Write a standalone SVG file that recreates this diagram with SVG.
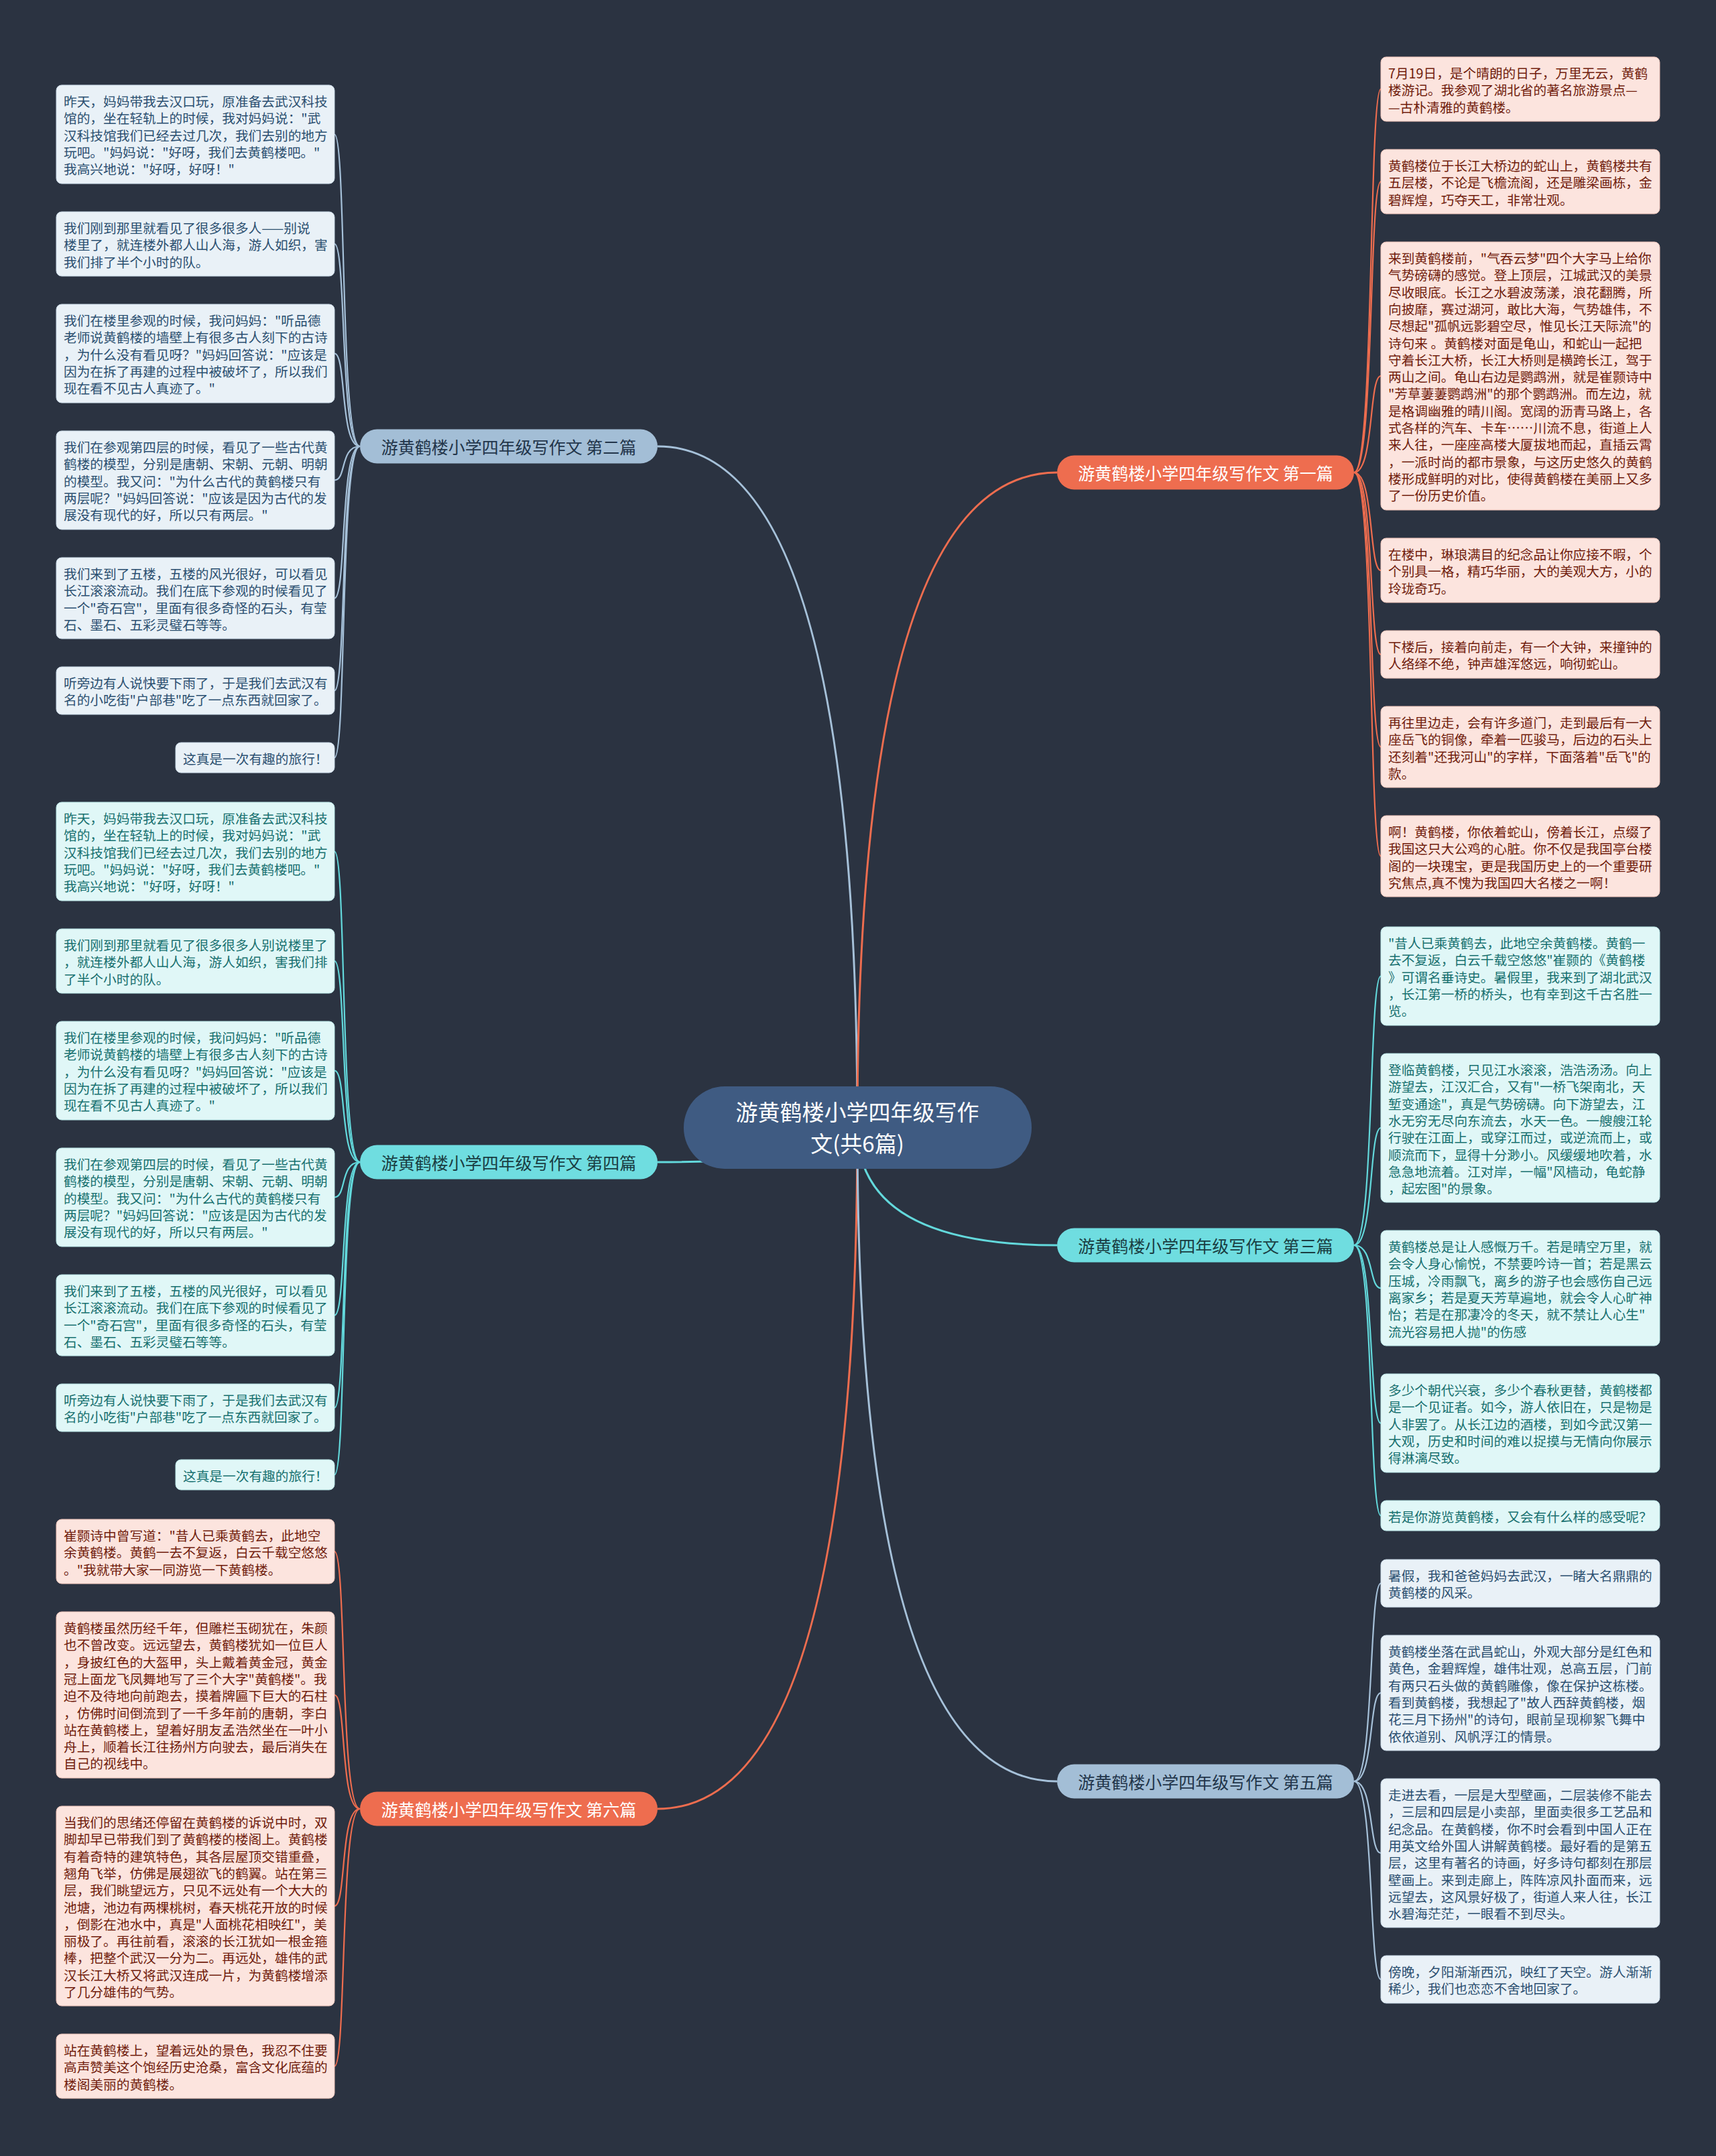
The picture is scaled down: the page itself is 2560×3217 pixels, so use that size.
<svg xmlns="http://www.w3.org/2000/svg" width="2560" height="3217" viewBox="0 0 2560 3217">
<style>
text{font-family:"Noto Sans CJK SC","Noto Sans",sans-serif;dominant-baseline:central}
.lt{font-size:19.7px}
.lb{fill:#e9f1f7;stroke:#c9d9e6;stroke-width:1}
.lc{fill:#e0f7f7;stroke:#b9e6e6;stroke-width:1}
.lr{fill:#fce4de;stroke:#eec3b8;stroke-width:1}
.tb{fill:#2b4f70}
.tc{fill:#17706f}
.tr{fill:#701c0c}
.cb{fill:none;stroke:#a6c1d9;stroke-width:2.2}
.cc{fill:none;stroke:#63d9dc;stroke-width:2.2}
.cr{fill:none;stroke:#ee6d4f;stroke-width:2.2}
.mb{fill:none;stroke:#a6c1d9;stroke-width:3}
.mc{fill:none;stroke:#63d9dc;stroke-width:3}
.mr{fill:none;stroke:#ee6d4f;stroke-width:3}
.bt{font-size:25px;text-anchor:middle}
</style>
<rect x="0" y="0" width="2560" height="3217" fill="#2b3341"/>
<g id="connectors">
<path class="mb" d="M1279,1682 Q1279,666 981,666"/>
<path class="mc" d="M1279,1682 Q1279,1734 981,1734"/>
<path class="mr" d="M1279,1682 Q1279,2699 981,2699"/>
<path class="mr" d="M1279,1682 Q1279,705 1577,705"/>
<path class="mc" d="M1279,1682 Q1279,1858 1577,1858"/>
<path class="mb" d="M1279,1682 Q1279,2658 1577,2658"/>
<path class="cb" d="M537,666 C507,666 517,200.5 499,200.5"/>
<path class="cb" d="M537,666 C507,666 517,364 499,364"/>
<path class="cb" d="M537,666 C507,666 517,527.5 499,527.5"/>
<path class="cb" d="M537,666 C507,666 517,716.5 499,716.5"/>
<path class="cb" d="M537,666 C507,666 517,892.5 499,892.5"/>
<path class="cb" d="M537,666 C507,666 517,1030.5 499,1030.5"/>
<path class="cb" d="M537,666 C507,666 517,1130.5 499,1130.5"/>
<path class="cc" d="M537,1734 C507,1734 517,1270.5 499,1270.5"/>
<path class="cc" d="M537,1734 C507,1734 517,1434 499,1434"/>
<path class="cc" d="M537,1734 C507,1734 517,1597.5 499,1597.5"/>
<path class="cc" d="M537,1734 C507,1734 517,1786.5 499,1786.5"/>
<path class="cc" d="M537,1734 C507,1734 517,1962.5 499,1962.5"/>
<path class="cc" d="M537,1734 C507,1734 517,2100.5 499,2100.5"/>
<path class="cc" d="M537,1734 C507,1734 517,2200.5 499,2200.5"/>
<path class="cr" d="M537,2699 C507,2699 517,2315 499,2315"/>
<path class="cr" d="M537,2699 C507,2699 517,2529 499,2529"/>
<path class="cr" d="M537,2699 C507,2699 517,2844 499,2844"/>
<path class="cr" d="M537,2699 C507,2699 517,3083 499,3083"/>
<path class="cr" d="M2020,705 C2050,705 2042,133 2060,133"/>
<path class="cr" d="M2020,705 C2050,705 2042,271 2060,271"/>
<path class="cr" d="M2020,705 C2050,705 2042,561 2060,561"/>
<path class="cr" d="M2020,705 C2050,705 2042,851 2060,851"/>
<path class="cr" d="M2020,705 C2050,705 2042,976.5 2060,976.5"/>
<path class="cr" d="M2020,705 C2050,705 2042,1114.5 2060,1114.5"/>
<path class="cr" d="M2020,705 C2050,705 2042,1277.5 2060,1277.5"/>
<path class="cc" d="M2020,1858 C2050,1858 2042,1456.5 2060,1456.5"/>
<path class="cc" d="M2020,1858 C2050,1858 2042,1683 2060,1683"/>
<path class="cc" d="M2020,1858 C2050,1858 2042,1922 2060,1922"/>
<path class="cc" d="M2020,1858 C2050,1858 2042,2123.5 2060,2123.5"/>
<path class="cc" d="M2020,1858 C2050,1858 2042,2261.5 2060,2261.5"/>
<path class="cb" d="M2020,2658 C2050,2658 2042,2362.5 2060,2362.5"/>
<path class="cb" d="M2020,2658 C2050,2658 2042,2526 2060,2526"/>
<path class="cb" d="M2020,2658 C2050,2658 2042,2765 2060,2765"/>
<path class="cb" d="M2020,2658 C2050,2658 2042,2953.5 2060,2953.5"/>
</g>
<g id="root">
<rect x="1020" y="1621" width="519" height="123" rx="61" fill="#3f5b82"/>
<text x="1279" y="1658" font-size="33" text-anchor="middle" fill="#ffffff">游黄鹤楼小学四年级写作</text>
<text x="1279" y="1705" font-size="33" text-anchor="middle" fill="#ffffff">文(共6篇)</text>
</g>
<g id="branch2"><rect x="537" y="640.5" width="444" height="51" rx="25.5" fill="#a3bed6"/><text class="bt" x="759" y="666" fill="#22354a">游黄鹤楼小学四年级写作文 第二篇</text></g>
<g id="branch4"><rect x="537" y="1708.5" width="444" height="51" rx="25.5" fill="#6fdde0"/><text class="bt" x="759" y="1734" fill="#1a3d42">游黄鹤楼小学四年级写作文 第四篇</text></g>
<g id="branch6"><rect x="537" y="2673.5" width="444" height="51" rx="25.5" fill="#ee6d4f"/><text class="bt" x="759" y="2699" fill="#ffffff">游黄鹤楼小学四年级写作文 第六篇</text></g>
<g id="branch1"><rect x="1577" y="679.5" width="443" height="51" rx="25.5" fill="#ee6d4f"/><text class="bt" x="1798.5" y="705" fill="#ffffff">游黄鹤楼小学四年级写作文 第一篇</text></g>
<g id="branch3"><rect x="1577" y="1832.5" width="443" height="51" rx="25.5" fill="#6fdde0"/><text class="bt" x="1798.5" y="1858" fill="#1a3d42">游黄鹤楼小学四年级写作文 第三篇</text></g>
<g id="branch5"><rect x="1577" y="2632.5" width="443" height="51" rx="25.5" fill="#a3bed6"/><text class="bt" x="1798.5" y="2658" fill="#22354a">游黄鹤楼小学四年级写作文 第五篇</text></g>

<g id="n2-1"><rect class="lb" x="84" y="127" width="415" height="147" rx="8"/><text class="lt tb"><tspan x="95" y="150">昨天，妈妈带我去汉口玩，原准备去武汉科技</tspan><tspan x="95" y="175.3">馆的，坐在轻轨上的时候，我对妈妈说："武</tspan><tspan x="95" y="200.6">汉科技馆我们已经去过几次，我们去别的地方</tspan><tspan x="95" y="225.9">玩吧。"妈妈说："好呀，我们去黄鹤楼吧。"</tspan><tspan x="95" y="251.2">我高兴地说："好呀，好呀！"</tspan></text></g>
<g id="n2-2"><rect class="lb" x="84" y="316" width="415" height="96" rx="8"/><text class="lt tb"><tspan x="95" y="339">我们刚到那里就看见了很多很多人——别说</tspan><tspan x="95" y="364.3">楼里了，就连楼外都人山人海，游人如织，害</tspan><tspan x="95" y="389.6">我们排了半个小时的队。</tspan></text></g>
<g id="n2-3"><rect class="lb" x="84" y="454" width="415" height="147" rx="8"/><text class="lt tb"><tspan x="95" y="477">我们在楼里参观的时候，我问妈妈："听品德</tspan><tspan x="95" y="502.3">老师说黄鹤楼的墙壁上有很多古人刻下的古诗</tspan><tspan x="95" y="527.6">，为什么没有看见呀？"妈妈回答说："应该是</tspan><tspan x="95" y="552.9">因为在拆了再建的过程中被破坏了，所以我们</tspan><tspan x="95" y="578.2">现在看不见古人真迹了。"</tspan></text></g>
<g id="n2-4"><rect class="lb" x="84" y="643" width="415" height="147" rx="8"/><text class="lt tb"><tspan x="95" y="666">我们在参观第四层的时候，看见了一些古代黄</tspan><tspan x="95" y="691.3">鹤楼的模型，分别是唐朝、宋朝、元朝、明朝</tspan><tspan x="95" y="716.6">的模型。我又问："为什么古代的黄鹤楼只有</tspan><tspan x="95" y="741.9">两层呢？"妈妈回答说："应该是因为古代的发</tspan><tspan x="95" y="767.2">展没有现代的好，所以只有两层。"</tspan></text></g>
<g id="n2-5"><rect class="lb" x="84" y="832" width="415" height="121" rx="8"/><text class="lt tb"><tspan x="95" y="855">我们来到了五楼，五楼的风光很好，可以看见</tspan><tspan x="95" y="880.3">长江滚滚流动。我们在底下参观的时候看见了</tspan><tspan x="95" y="905.6">一个"奇石宫"，里面有很多奇怪的石头，有莹</tspan><tspan x="95" y="930.9">石、墨石、五彩灵璧石等等。</tspan></text></g>
<g id="n2-6"><rect class="lb" x="84" y="995" width="415" height="71" rx="8"/><text class="lt tb"><tspan x="95" y="1018">听旁边有人说快要下雨了，于是我们去武汉有</tspan><tspan x="95" y="1043.3">名的小吃街"户部巷"吃了一点东西就回家了。</tspan></text></g>
<g id="n2-7"><rect class="lb" x="262" y="1108" width="237" height="45" rx="8"/><text class="lt tb"><tspan x="273" y="1131">这真是一次有趣的旅行！</tspan></text></g>

<g id="n4-1"><rect class="lc" x="84" y="1197" width="415" height="147" rx="8"/><text class="lt tc"><tspan x="95" y="1220">昨天，妈妈带我去汉口玩，原准备去武汉科技</tspan><tspan x="95" y="1245.3">馆的，坐在轻轨上的时候，我对妈妈说："武</tspan><tspan x="95" y="1270.6">汉科技馆我们已经去过几次，我们去别的地方</tspan><tspan x="95" y="1295.9">玩吧。"妈妈说："好呀，我们去黄鹤楼吧。"</tspan><tspan x="95" y="1321.2">我高兴地说："好呀，好呀！"</tspan></text></g>
<g id="n4-2"><rect class="lc" x="84" y="1386" width="415" height="96" rx="8"/><text class="lt tc"><tspan x="95" y="1409">我们刚到那里就看见了很多很多人别说楼里了</tspan><tspan x="95" y="1434.3">，就连楼外都人山人海，游人如织，害我们排</tspan><tspan x="95" y="1459.6">了半个小时的队。</tspan></text></g>
<g id="n4-3"><rect class="lc" x="84" y="1524" width="415" height="147" rx="8"/><text class="lt tc"><tspan x="95" y="1547">我们在楼里参观的时候，我问妈妈："听品德</tspan><tspan x="95" y="1572.3">老师说黄鹤楼的墙壁上有很多古人刻下的古诗</tspan><tspan x="95" y="1597.6">，为什么没有看见呀？"妈妈回答说："应该是</tspan><tspan x="95" y="1622.9">因为在拆了再建的过程中被破坏了，所以我们</tspan><tspan x="95" y="1648.2">现在看不见古人真迹了。"</tspan></text></g>
<g id="n4-4"><rect class="lc" x="84" y="1713" width="415" height="147" rx="8"/><text class="lt tc"><tspan x="95" y="1736">我们在参观第四层的时候，看见了一些古代黄</tspan><tspan x="95" y="1761.3">鹤楼的模型，分别是唐朝、宋朝、元朝、明朝</tspan><tspan x="95" y="1786.6">的模型。我又问："为什么古代的黄鹤楼只有</tspan><tspan x="95" y="1811.9">两层呢？"妈妈回答说："应该是因为古代的发</tspan><tspan x="95" y="1837.2">展没有现代的好，所以只有两层。"</tspan></text></g>
<g id="n4-5"><rect class="lc" x="84" y="1902" width="415" height="121" rx="8"/><text class="lt tc"><tspan x="95" y="1925">我们来到了五楼，五楼的风光很好，可以看见</tspan><tspan x="95" y="1950.3">长江滚滚流动。我们在底下参观的时候看见了</tspan><tspan x="95" y="1975.6">一个"奇石宫"，里面有很多奇怪的石头，有莹</tspan><tspan x="95" y="2000.9">石、墨石、五彩灵璧石等等。</tspan></text></g>
<g id="n4-6"><rect class="lc" x="84" y="2065" width="415" height="71" rx="8"/><text class="lt tc"><tspan x="95" y="2088">听旁边有人说快要下雨了，于是我们去武汉有</tspan><tspan x="95" y="2113.3">名的小吃街"户部巷"吃了一点东西就回家了。</tspan></text></g>
<g id="n4-7"><rect class="lc" x="262" y="2178" width="237" height="45" rx="8"/><text class="lt tc"><tspan x="273" y="2201">这真是一次有趣的旅行！</tspan></text></g>

<g id="n6-1"><rect class="lr" x="84" y="2267" width="415" height="96" rx="8"/><text class="lt tr"><tspan x="95" y="2290">崔颢诗中曾写道："昔人已乘黄鹤去，此地空</tspan><tspan x="95" y="2315.3">余黄鹤楼。黄鹤一去不复返，白云千载空悠悠</tspan><tspan x="95" y="2340.6">。"我就带大家一同游览一下黄鹤楼。</tspan></text></g>
<g id="n6-2"><rect class="lr" x="84" y="2405" width="415" height="248" rx="8"/><text class="lt tr"><tspan x="95" y="2428">黄鹤楼虽然历经千年，但雕栏玉砌犹在，朱颜</tspan><tspan x="95" y="2453.3">也不曾改变。远远望去，黄鹤楼犹如一位巨人</tspan><tspan x="95" y="2478.6">，身披红色的大盔甲，头上戴着黄金冠，黄金</tspan><tspan x="95" y="2503.9">冠上面龙飞凤舞地写了三个大字"黄鹤楼"。我</tspan><tspan x="95" y="2529.2">迫不及待地向前跑去，摸着牌匾下巨大的石柱</tspan><tspan x="95" y="2554.5">，仿佛时间倒流到了一千多年前的唐朝，李白</tspan><tspan x="95" y="2579.8">站在黄鹤楼上，望着好朋友孟浩然坐在一叶小</tspan><tspan x="95" y="2605.1">舟上，顺着长江往扬州方向驶去，最后消失在</tspan><tspan x="95" y="2630.4">自己的视线中。</tspan></text></g>
<g id="n6-3"><rect class="lr" x="84" y="2695" width="415" height="298" rx="8"/><text class="lt tr"><tspan x="95" y="2718">当我们的思绪还停留在黄鹤楼的诉说中时，双</tspan><tspan x="95" y="2743.3">脚却早已带我们到了黄鹤楼的楼阁上。黄鹤楼</tspan><tspan x="95" y="2768.6">有着奇特的建筑特色，其各层屋顶交错重叠，</tspan><tspan x="95" y="2793.9">翘角飞举，仿佛是展翅欲飞的鹤翼。站在第三</tspan><tspan x="95" y="2819.2">层，我们眺望远方，只见不远处有一个大大的</tspan><tspan x="95" y="2844.5">池塘，池边有两棵桃树，春天桃花开放的时候</tspan><tspan x="95" y="2869.8">，倒影在池水中，真是"人面桃花相映红"，美</tspan><tspan x="95" y="2895.1">丽极了。再往前看，滚滚的长江犹如一根金箍</tspan><tspan x="95" y="2920.4">棒，把整个武汉一分为二。再远处，雄伟的武</tspan><tspan x="95" y="2945.7">汉长江大桥又将武汉连成一片，为黄鹤楼增添</tspan><tspan x="95" y="2971">了几分雄伟的气势。</tspan></text></g>
<g id="n6-4"><rect class="lr" x="84" y="3035" width="415" height="96" rx="8"/><text class="lt tr"><tspan x="95" y="3058">站在黄鹤楼上，望着远处的景色，我忍不住要</tspan><tspan x="95" y="3083.3">高声赞美这个饱经历史沧桑，富含文化底蕴的</tspan><tspan x="95" y="3108.6">楼阁美丽的黄鹤楼。</tspan></text></g>

<g id="n1-1"><rect class="lr" x="2060" y="85" width="416" height="96" rx="8"/><text class="lt tr"><tspan x="2071" y="108">7月19日，是个晴朗的日子，万里无云，黄鹤</tspan><tspan x="2071" y="133.3">楼游记。我参观了湖北省的著名旅游景点—</tspan><tspan x="2071" y="158.6">—古朴清雅的黄鹤楼。</tspan></text></g>
<g id="n1-2"><rect class="lr" x="2060" y="223" width="416" height="96" rx="8"/><text class="lt tr"><tspan x="2071" y="246">黄鹤楼位于长江大桥边的蛇山上，黄鹤楼共有</tspan><tspan x="2071" y="271.3">五层楼，不论是飞檐流阁，还是雕梁画栋，金</tspan><tspan x="2071" y="296.6">碧辉煌，巧夺天工，非常壮观。</tspan></text></g>
<g id="n1-3"><rect class="lr" x="2060" y="361" width="416" height="400" rx="8"/><text class="lt tr"><tspan x="2071" y="384">来到黄鹤楼前，"气吞云梦"四个大字马上给你</tspan><tspan x="2071" y="409.3">气势磅礴的感觉。登上顶层，江城武汉的美景</tspan><tspan x="2071" y="434.6">尽收眼底。长江之水碧波荡漾，浪花翻腾，所</tspan><tspan x="2071" y="459.9">向披靡，赛过湖河，敢比大海，气势雄伟，不</tspan><tspan x="2071" y="485.2">尽想起"孤帆远影碧空尽，惟见长江天际流"的</tspan><tspan x="2071" y="510.5">诗句来 。黄鹤楼对面是龟山，和蛇山一起把</tspan><tspan x="2071" y="535.8">守着长江大桥，长江大桥则是横跨长江，驾于</tspan><tspan x="2071" y="561.1">两山之间。龟山右边是鹦鹉洲，就是崔颢诗中</tspan><tspan x="2071" y="586.4">"芳草萋萋鹦鹉洲"的那个鹦鹉洲。而左边，就</tspan><tspan x="2071" y="611.7">是格调幽雅的晴川阁。宽阔的沥青马路上，各</tspan><tspan x="2071" y="637">式各样的汽车、卡车……川流不息，街道上人</tspan><tspan x="2071" y="662.3">来人往，一座座高楼大厦拔地而起，直插云霄</tspan><tspan x="2071" y="687.6">，一派时尚的都市景象，与这历史悠久的黄鹤</tspan><tspan x="2071" y="712.9">楼形成鲜明的对比，使得黄鹤楼在美丽上又多</tspan><tspan x="2071" y="738.2">了一份历史价值。</tspan></text></g>
<g id="n1-4"><rect class="lr" x="2060" y="803" width="416" height="96" rx="8"/><text class="lt tr"><tspan x="2071" y="826">在楼中，琳琅满目的纪念品让你应接不暇，个</tspan><tspan x="2071" y="851.3">个别具一格，精巧华丽，大的美观大方，小的</tspan><tspan x="2071" y="876.6">玲珑奇巧。</tspan></text></g>
<g id="n1-5"><rect class="lr" x="2060" y="941" width="416" height="71" rx="8"/><text class="lt tr"><tspan x="2071" y="964">下楼后，接着向前走，有一个大钟，来撞钟的</tspan><tspan x="2071" y="989.3">人络绎不绝，钟声雄浑悠远，响彻蛇山。</tspan></text></g>
<g id="n1-6"><rect class="lr" x="2060" y="1054" width="416" height="121" rx="8"/><text class="lt tr"><tspan x="2071" y="1077">再往里边走，会有许多道门，走到最后有一大</tspan><tspan x="2071" y="1102.3">座岳飞的铜像，牵着一匹骏马，后边的石头上</tspan><tspan x="2071" y="1127.6">还刻着"还我河山"的字样，下面落着"岳飞"的</tspan><tspan x="2071" y="1152.9">款。</tspan></text></g>
<g id="n1-7"><rect class="lr" x="2060" y="1217" width="416" height="121" rx="8"/><text class="lt tr"><tspan x="2071" y="1240">啊！黄鹤楼，你依着蛇山，傍着长江，点缀了</tspan><tspan x="2071" y="1265.3">我国这只大公鸡的心脏。你不仅是我国亭台楼</tspan><tspan x="2071" y="1290.6">阁的一块瑰宝，更是我国历史上的一个重要研</tspan><tspan x="2071" y="1315.9">究焦点,真不愧为我国四大名楼之一啊！</tspan></text></g>

<g id="n3-1"><rect class="lc" x="2060" y="1383" width="416" height="147" rx="8"/><text class="lt tc"><tspan x="2071" y="1406">"昔人已乘黄鹤去，此地空余黄鹤楼。黄鹤一</tspan><tspan x="2071" y="1431.3">去不复返，白云千载空悠悠"崔颢的《黄鹤楼</tspan><tspan x="2071" y="1456.6">》可谓名垂诗史。暑假里，我来到了湖北武汉</tspan><tspan x="2071" y="1481.9">，长江第一桥的桥头，也有幸到这千古名胜一</tspan><tspan x="2071" y="1507.2">览。</tspan></text></g>
<g id="n3-2"><rect class="lc" x="2060" y="1572" width="416" height="222" rx="8"/><text class="lt tc"><tspan x="2071" y="1595">登临黄鹤楼，只见江水滚滚，浩浩汤汤。向上</tspan><tspan x="2071" y="1620.3">游望去，江汉汇合，又有"一桥飞架南北，天</tspan><tspan x="2071" y="1645.6">堑变通途"，真是气势磅礴。向下游望去，江</tspan><tspan x="2071" y="1670.9">水无穷无尽向东流去，水天一色。一艘艘江轮</tspan><tspan x="2071" y="1696.2">行驶在江面上，或穿江而过，或逆流而上，或</tspan><tspan x="2071" y="1721.5">顺流而下，显得十分渺小。风缓缓地吹着，水</tspan><tspan x="2071" y="1746.8">急急地流着。江对岸，一幅"风樯动，龟蛇静</tspan><tspan x="2071" y="1772.1">，起宏图"的景象。</tspan></text></g>
<g id="n3-3"><rect class="lc" x="2060" y="1836" width="416" height="172" rx="8"/><text class="lt tc"><tspan x="2071" y="1859">黄鹤楼总是让人感慨万千。若是晴空万里，就</tspan><tspan x="2071" y="1884.3">会令人身心愉悦，不禁要吟诗一首；若是黑云</tspan><tspan x="2071" y="1909.6">压城，冷雨飘飞，离乡的游子也会感伤自己远</tspan><tspan x="2071" y="1934.9">离家乡；若是夏天芳草遍地，就会令人心旷神</tspan><tspan x="2071" y="1960.2">怡；若是在那凄冷的冬天，就不禁让人心生"</tspan><tspan x="2071" y="1985.5">流光容易把人抛"的伤感</tspan></text></g>
<g id="n3-4"><rect class="lc" x="2060" y="2050" width="416" height="147" rx="8"/><text class="lt tc"><tspan x="2071" y="2073">多少个朝代兴衰，多少个春秋更替，黄鹤楼都</tspan><tspan x="2071" y="2098.3">是一个见证者。如今，游人依旧在，只是物是</tspan><tspan x="2071" y="2123.6">人非罢了。从长江边的酒楼，到如今武汉第一</tspan><tspan x="2071" y="2148.9">大观，历史和时间的难以捉摸与无情向你展示</tspan><tspan x="2071" y="2174.2">得淋漓尽致。</tspan></text></g>
<g id="n3-5"><rect class="lc" x="2060" y="2239" width="416" height="45" rx="8"/><text class="lt tc"><tspan x="2071" y="2262">若是你游览黄鹤楼，又会有什么样的感受呢？</tspan></text></g>

<g id="n5-1"><rect class="lb" x="2060" y="2327" width="416" height="71" rx="8"/><text class="lt tb"><tspan x="2071" y="2350">暑假，我和爸爸妈妈去武汉，一睹大名鼎鼎的</tspan><tspan x="2071" y="2375.3">黄鹤楼的风采。</tspan></text></g>
<g id="n5-2"><rect class="lb" x="2060" y="2440" width="416" height="172" rx="8"/><text class="lt tb"><tspan x="2071" y="2463">黄鹤楼坐落在武昌蛇山，外观大部分是红色和</tspan><tspan x="2071" y="2488.3">黄色，金碧辉煌，雄伟壮观，总高五层，门前</tspan><tspan x="2071" y="2513.6">有两只石头做的黄鹤雕像，像在保护这栋楼。</tspan><tspan x="2071" y="2538.9">看到黄鹤楼，我想起了"故人西辞黄鹤楼，烟</tspan><tspan x="2071" y="2564.2">花三月下扬州"的诗句，眼前呈现柳絮飞舞中</tspan><tspan x="2071" y="2589.5">依依道别、风帆浮江的情景。</tspan></text></g>
<g id="n5-3"><rect class="lb" x="2060" y="2654" width="416" height="222" rx="8"/><text class="lt tb"><tspan x="2071" y="2677">走进去看，一层是大型壁画，二层装修不能去</tspan><tspan x="2071" y="2702.3">，三层和四层是小卖部，里面卖很多工艺品和</tspan><tspan x="2071" y="2727.6">纪念品。在黄鹤楼，你不时会看到中国人正在</tspan><tspan x="2071" y="2752.9">用英文给外国人讲解黄鹤楼。最好看的是第五</tspan><tspan x="2071" y="2778.2">层，这里有著名的诗画，好多诗句都刻在那层</tspan><tspan x="2071" y="2803.5">壁画上。来到走廊上，阵阵凉风扑面而来，远</tspan><tspan x="2071" y="2828.8">远望去，这风景好极了，街道人来人往，长江</tspan><tspan x="2071" y="2854.1">水碧海茫茫，一眼看不到尽头。</tspan></text></g>
<g id="n5-4"><rect class="lb" x="2060" y="2918" width="416" height="71" rx="8"/><text class="lt tb"><tspan x="2071" y="2941">傍晚，夕阳渐渐西沉，映红了天空。游人渐渐</tspan><tspan x="2071" y="2966.3">稀少，我们也恋恋不舍地回家了。</tspan></text></g>
</svg>
